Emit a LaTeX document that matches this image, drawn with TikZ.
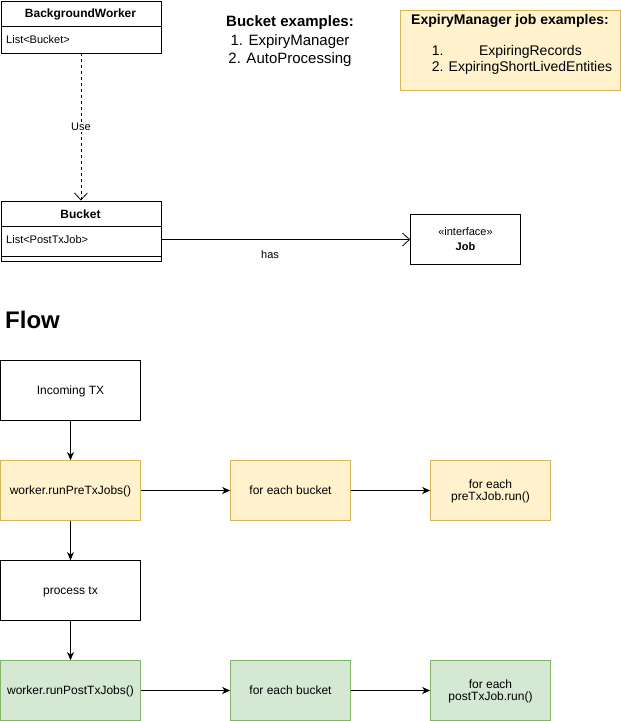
\documentclass[tikz,border=0pt]{standalone}
\usepackage{fontspec}
\setmainfont{Liberation Sans}
\usetikzlibrary{arrows.meta}
\definecolor{noteFill}{HTML}{FFF2CC}
\definecolor{noteLine}{HTML}{D6B656}
\definecolor{okFill}{HTML}{D5E8D4}
\definecolor{okLine}{HTML}{82B366}
\newcommand{\fs}[1]{\fontsize{#1}{#1}\selectfont}
\begin{document}
\begin{tikzpicture}[x=1pt,y=-1pt,
  umlbox/.style={draw,line width=0.8pt,minimum width=160pt,anchor=north west,inner sep=0pt},
  flowbox/.style={draw,line width=0.8pt,minimum width=#1,minimum height=60pt,
    align=center,font=\fs{12},inner sep=0pt,text depth=0pt},
  flowbox/.default=120pt,
  plain/.style={draw=black,fill=white},
  yellowbox/.style={draw=noteLine,fill=noteFill},
  greenbox/.style={draw=okLine,fill=okFill},
  flowarrow/.style={-{Stealth[length=8pt,width=7pt,inset=2.5pt]},line width=0.8pt},
  openarrow/.style={-{Straight Barb[length=7pt,width=13pt,line width=0.8pt]},line width=0.8pt},
  attr/.style={anchor=west,font=\fs{11},inner sep=0pt}
]
\useasboundingbox (0,0) rectangle (621,721);

% ---- class BackgroundWorker ----
\node[umlbox,minimum height=52pt] (bw) at (0.5,0.5) {};
\draw[line width=0.8pt] (0.5,26) -- (160.5,26);
\node[font=\bfseries\fs{12}] (bwtitle) at (80.5,14) {BackgroundWorker};
\node[attr] (bwattr) at (6,39.5) {List<Bucket>};

% ---- class Bucket ----
\node[umlbox,minimum height=60pt] (bucket) at (0.5,200.5) {};
\draw[line width=0.8pt] (0.5,226) -- (160.5,226);
\draw[line width=0.8pt] (0.5,256) -- (160.5,256);
\node[font=\bfseries\fs{12}] (buckettitle) at (80.5,214) {Bucket};
\node[attr] (bucketattr) at (6,239.5) {List<PostTxJob>};
\coordinate (bucketrow) at (160.5,239.5);

% ---- interface Job ----
\node[draw,line width=0.8pt,minimum width=110pt,minimum height=50pt,inner sep=0pt] (job) at (465.5,239.5) {};
\node[font=\fs{11}] (jobkind) at (465.5,232) {«interface»};
\node[font=\bfseries\fs{11}] (jobname) at (465.5,246.5) {Job};

% ---- UML relations ----
\draw[openarrow,dashed,dash pattern=on 3pt off 3pt] (bw.south) -- node[fill=white,font=\fs{11},inner sep=1.5pt] (uselbl) {Use} (bucket.north);
\draw[openarrow] (bucketrow) -- (job.west);
\node[font=\fs{11}] (haslbl) at (270,255) {has};

% ---- notes ----
\node[align=center,font=\fs{15},inner sep=0pt] (bucketnote) at (290,41.5) {%
  {\bfseries Bucket examples:}\\[3.5pt]1. ExpiryManager\\[3.5pt]2. AutoProcessing};
\node[yellowbox,line width=0.8pt,minimum width=220pt,minimum height=80pt,inner sep=0pt] (jobnote) at (510.5,50.5) {};
\node[font=\bfseries\fs{14}] (jobnotetitle) at (510,21) {ExpiryManager job examples:};
\node[font=\fs{14},inner sep=0pt] (jobnotelist) at (522,60) {%
  \def\arraystretch{1.15}\begin{tabular}{@{}l@{ }c@{}}1. & ExpiringRecords\\2. & ExpiringShortLivedEntities\end{tabular}};

% ---- flow ----
\node[anchor=west,font=\bfseries\fs{24},inner sep=0pt] (flowtitle) at (5,320) {Flow};

\node[flowbox=140pt,plain] (incoming) at (70.5,390.5) {Incoming TX};
\node[flowbox=140pt,yellowbox] (pre) at (70.5,490.5) {worker.runPreTxJobs()};
\node[flowbox,yellowbox] (prebucket) at (290.5,490.5) {for each bucket};
\node[flowbox,yellowbox] (prejob) at (490.5,490.5) {for each\\preTxJob.run()};
\node[flowbox=140pt,plain] (process) at (70.5,590.5) {process tx};
\node[flowbox=140pt,greenbox] (post) at (70.5,690.5) {worker.runPostTxJobs()};
\node[flowbox,greenbox] (postbucket) at (290.5,690.5) {for each bucket};
\node[flowbox,greenbox] (postjob) at (490.5,690.5) {for each\\postTxJob.run()};

\draw[flowarrow] (incoming) -- (pre);
\draw[flowarrow] (pre) -- (process);
\draw[flowarrow] (process) -- (post);
\draw[flowarrow] (pre) -- (prebucket);
\draw[flowarrow] (prebucket) -- (prejob);
\draw[flowarrow] (post) -- (postbucket);
\draw[flowarrow] (postbucket) -- (postjob);
\end{tikzpicture}
\end{document}
